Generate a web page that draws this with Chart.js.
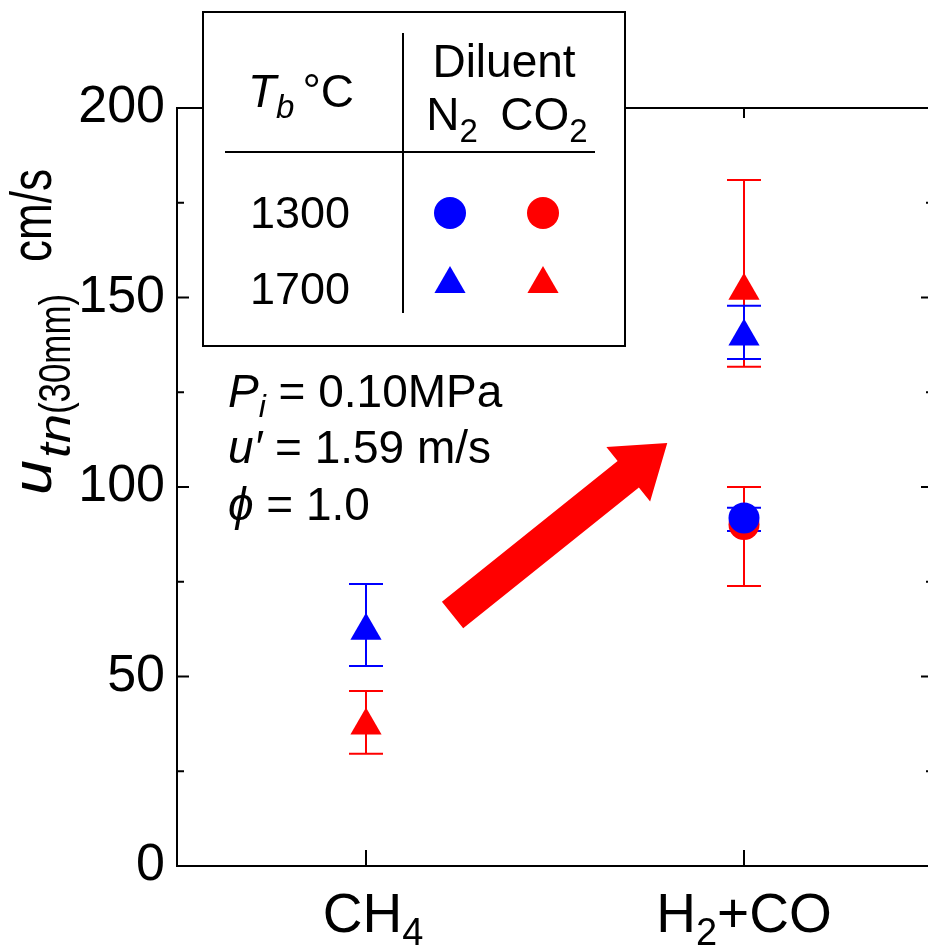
<!DOCTYPE html>
<html><head><meta charset="utf-8">
<script src="https://cdn.jsdelivr.net/npm/chart.js@4.4.1/dist/chart.umd.min.js"></script>
<style>
html,body{margin:0;padding:0;background:#fff;overflow:hidden;width:928px;height:946px;}
#wrap{width:960px;height:946px;}
</style></head><body>
<div id="wrap"><canvas id="c" width="960" height="946"></canvas></div>
<script>
// ---------- data ----------
const categories = ['CH4', 'H2+CO'];
const yTicks = [0, 50, 100, 150, 200];
const yMinorTicks = [25, 75, 125, 175];

const n2_1300 = [null, 91.8];
const n2_1300_lo = [null, 88.4];
const n2_1300_hi = [null, 94.5];

const co2_1300 = [null, 90.1];
const co2_1300_lo = [null, 73.9];
const co2_1300_hi = [null, 100.0];

const n2_1700 = [62.1, 139.7];
const n2_1700_lo = [52.8, 133.8];
const n2_1700_hi = [74.4, 147.8];

const co2_1700 = [37.1, 151.8];
const co2_1700_lo = [29.6, 131.7];
const co2_1700_hi = [46.2, 181.0];

// arrow (in data units: category index, y value)
const arrowTail = [0.229, 66.2];
const arrowTip = [0.797, 111.6];

const BLUE = '#0000ff', RED = '#ff0000';
const FONT = '"Liberation Sans", Arial, sans-serif';

const errorSeries = [
  {lo: co2_1700_lo, hi: co2_1700_hi, color: RED},
  {lo: co2_1300_lo, hi: co2_1300_hi, color: RED},
  {lo: n2_1700_lo, hi: n2_1700_hi, color: BLUE},
  {lo: n2_1300_lo, hi: n2_1300_hi, color: BLUE}
];

function runScale(ctx, r) {
  ctx.font = (r.italic ? 'italic ' : '') + r.size + 'px ' + FONT;
  const mw = ctx.measureText(r.t).width;
  const sx = r.w ? r.w / mw : (r.sx || 1);
  return {mw, sx};
}
function runsWidth(ctx, runs) {
  let w = 0;
  for (const r of runs) {
    const {mw, sx} = runScale(ctx, r);
    w += mw * sx + (r.after || 0);
  }
  return w;
}
function drawRuns(ctx, runs, x, y, align) {
  let cx = x;
  const w = runsWidth(ctx, runs);
  if (align === 'center') cx = x - w / 2;
  else if (align === 'right') cx = x - w;
  ctx.textAlign = 'left';
  ctx.textBaseline = 'alphabetic';
  for (const r of runs) {
    const {mw, sx} = runScale(ctx, r);
    ctx.save();
    ctx.translate(cx, y + (r.dy || 0));
    ctx.scale(sx, 1);
    ctx.fillText(r.t, 0, 0);
    ctx.restore();
    cx += mw * sx + (r.after || 0);
  }
}
function circle(ctx, x, y, r, c) {
  ctx.fillStyle = c; ctx.beginPath(); ctx.arc(x, y, r, 0, Math.PI * 2); ctx.fill();
}
function tri(ctx, x, y, r, c) {
  ctx.fillStyle = c; ctx.beginPath();
  let a = 0;
  for (let k = 0; k < 3; k++) {
    const px = x + Math.sin(a) * r, py = y - Math.cos(a) * r;
    k === 0 ? ctx.moveTo(px, py) : ctx.lineTo(px, py);
    a += 2 * Math.PI / 3;
  }
  ctx.closePath(); ctx.fill();
}

const xLabelRuns = {
  'CH4': {dx: 7, runs: [{t: 'CH', size: 55}, {t: '4', size: 38, dy: 13}]},
  'H2+CO': {dx: 0, runs: [{t: 'H', size: 55}, {t: '2', size: 38, dy: 13}, {t: '+CO', size: 55}]}
};

const decor = {
  id: 'decor',
  beforeDatasetsDraw(chart) {
    const {ctx, chartArea: a, scales: {x, y}} = chart;
    ctx.save();
    ctx.strokeStyle = '#000';
    ctx.lineWidth = 2;
    ctx.strokeRect(a.left, a.top, a.right - a.left, a.bottom - a.top);
    ctx.beginPath();
    for (const v of yTicks) {
      const py = y.getPixelForValue(v);
      ctx.moveTo(a.left, py); ctx.lineTo(a.left + 12, py);
      ctx.moveTo(a.right, py); ctx.lineTo(a.right - 12, py);
    }
    for (const v of yMinorTicks) {
      const py = y.getPixelForValue(v);
      ctx.moveTo(a.left, py); ctx.lineTo(a.left + 7, py);
      ctx.moveTo(a.right, py); ctx.lineTo(a.right - 7, py);
    }
    categories.forEach((c, i) => {
      const px = x.getPixelForValue(i);
      ctx.moveTo(px, a.bottom); ctx.lineTo(px, a.bottom - 16);
      ctx.moveTo(px, a.top); ctx.lineTo(px, a.top + 10);
    });
    ctx.stroke();

    // error bars
    ctx.lineWidth = 2;
    for (const s of errorSeries) {
      ctx.strokeStyle = s.color;
      ctx.beginPath();
      s.lo.forEach((lo, i) => {
        if (lo === null) return;
        const px = x.getPixelForValue(i);
        const yl = y.getPixelForValue(lo), yh = y.getPixelForValue(s.hi[i]);
        ctx.moveTo(px, yl); ctx.lineTo(px, yh);
        ctx.moveTo(px - 17, yl); ctx.lineTo(px + 17, yl);
        ctx.moveTo(px - 17, yh); ctx.lineTo(px + 17, yh);
      });
      ctx.stroke();
    }

    // arrow
    const tx = x.getPixelForValue(arrowTail[0]), ty = y.getPixelForValue(arrowTail[1]);
    const hx = x.getPixelForValue(arrowTip[0]), hy = y.getPixelForValue(arrowTip[1]);
    const dx = hx - tx, dy = hy - ty, L = Math.hypot(dx, dy);
    const ux = dx / L, uy = dy / L, nx = -uy, ny = ux;
    const sw = 17, hw = 35, hl = 50;
    const bx = hx - ux * hl, by = hy - uy * hl;
    ctx.fillStyle = RED;
    ctx.beginPath();
    ctx.moveTo(tx + nx * sw, ty + ny * sw);
    ctx.lineTo(bx + nx * sw, by + ny * sw);
    ctx.lineTo(bx + nx * hw, by + ny * hw);
    ctx.lineTo(hx, hy);
    ctx.lineTo(bx - nx * hw, by - ny * hw);
    ctx.lineTo(bx - nx * sw, by - ny * sw);
    ctx.lineTo(tx - nx * sw, ty - ny * sw);
    ctx.closePath();
    ctx.fill();
    ctx.restore();
  },
  afterDraw(chart) {
    const {ctx, chartArea: a, scales: {x, y}} = chart;
    ctx.save();
    ctx.fillStyle = '#000';
    // x category labels
    categories.forEach((c, i) => {
      const L = xLabelRuns[c];
      drawRuns(ctx, L.runs, x.getPixelForValue(i) + L.dx, 932, 'center');
    });
    // y title
    ctx.save();
    ctx.translate(51, 495);
    ctx.rotate(-Math.PI / 2);
    drawRuns(ctx, [
      {t: 'u', size: 56, italic: true, w: 35, after: 2},
      {t: 'tn', size: 44, italic: true, dy: 19, w: 44},
      {t: '(30mm)', size: 44, dy: 19, w: 120, after: 32},
      {t: 'cm/s', size: 58, w: 93}
    ], 0, 0, 'left');
    ctx.restore();

    // legend box
    ctx.fillStyle = '#fff';
    ctx.fillRect(203, 12, 422, 334);
    ctx.strokeStyle = '#000';
    ctx.lineWidth = 2;
    ctx.strokeRect(203, 12, 422, 334);
    ctx.beginPath();
    ctx.moveTo(403, 33); ctx.lineTo(403, 313);
    ctx.moveTo(225, 152); ctx.lineTo(595, 152);
    ctx.stroke();
    ctx.fillStyle = '#000';
    drawRuns(ctx, [{t: 'T', size: 46, italic: true}, {t: 'b', size: 33, italic: true, dy: 11, after: 8}, {t: '\u00b0C', size: 46}], 301, 107, 'center');
    drawRuns(ctx, [{t: 'Diluent', size: 46}], 504, 77, 'center');
    drawRuns(ctx, [{t: 'N', size: 46}, {t: '2', size: 33, dy: 12}], 452, 130, 'center');
    drawRuns(ctx, [{t: 'CO', size: 46}, {t: '2', size: 33, dy: 12}], 544, 130, 'center');
    drawRuns(ctx, [{t: '1300', size: 45}], 300, 228, 'center');
    drawRuns(ctx, [{t: '1700', size: 45}], 300, 304, 'center');
    circle(ctx, 450, 213, 16, BLUE);
    circle(ctx, 543, 213, 16, RED);
    tri(ctx, 450, 284, 18, BLUE);
    tri(ctx, 543, 284, 18, RED);

    // conditions
    ctx.fillStyle = '#000';
    drawRuns(ctx, [{t: 'P', size: 46, italic: true}, {t: 'i', size: 32, italic: true, dy: 10}, {t: ' = 0.10MPa', size: 46}], 228, 407, 'left');
    drawRuns(ctx, [{t: 'u\u2032', size: 46, italic: true}, {t: ' = 1.59 m/s', size: 46}], 228, 463, 'left');
    drawRuns(ctx, [{t: '\u03d5', size: 46, italic: true}, {t: ' = 1.0', size: 46}], 228, 520, 'left');
    ctx.restore();
  }
};

const mk = (label, data, color, style, r) => ({
  label, data, showLine: false,
  pointStyle: style, pointRadius: r, pointHoverRadius: r,
  backgroundColor: color, borderColor: color, pointBorderWidth: 0
});

new Chart(document.getElementById('c'), {
  type: 'line',
  data: {
    labels: categories,
    datasets: [
      mk('N2 1300', n2_1300, BLUE, 'circle', 15.5),
      mk('N2 1700', n2_1700, BLUE, 'triangle', 18),
      mk('CO2 1300', co2_1300, RED, 'circle', 15.5),
      mk('CO2 1700', co2_1700, RED, 'triangle', 18)
    ]
  },
  options: {
    responsive: false,
    animation: false,
    events: [],
    layout: {padding: {left: 0, top: 108, right: 27, bottom: 0}},
    plugins: {legend: {display: false}, tooltip: {enabled: false}},
    scales: {
      x: {
        type: 'category', offset: true,
        grid: {display: false, drawTicks: false},
        border: {display: false},
        ticks: {display: false},
        afterFit(s) { s.height = 80; }
      },
      y: {
        min: 0, max: 200,
        grid: {display: false, drawTicks: false},
        border: {display: false},
        ticks: {stepSize: 50, padding: 12, color: '#000', font: {family: FONT, size: 52}},
        afterFit(s) { s.width = 177; }
      }
    }
  },
  plugins: [decor]
});
</script>
</body></html>
